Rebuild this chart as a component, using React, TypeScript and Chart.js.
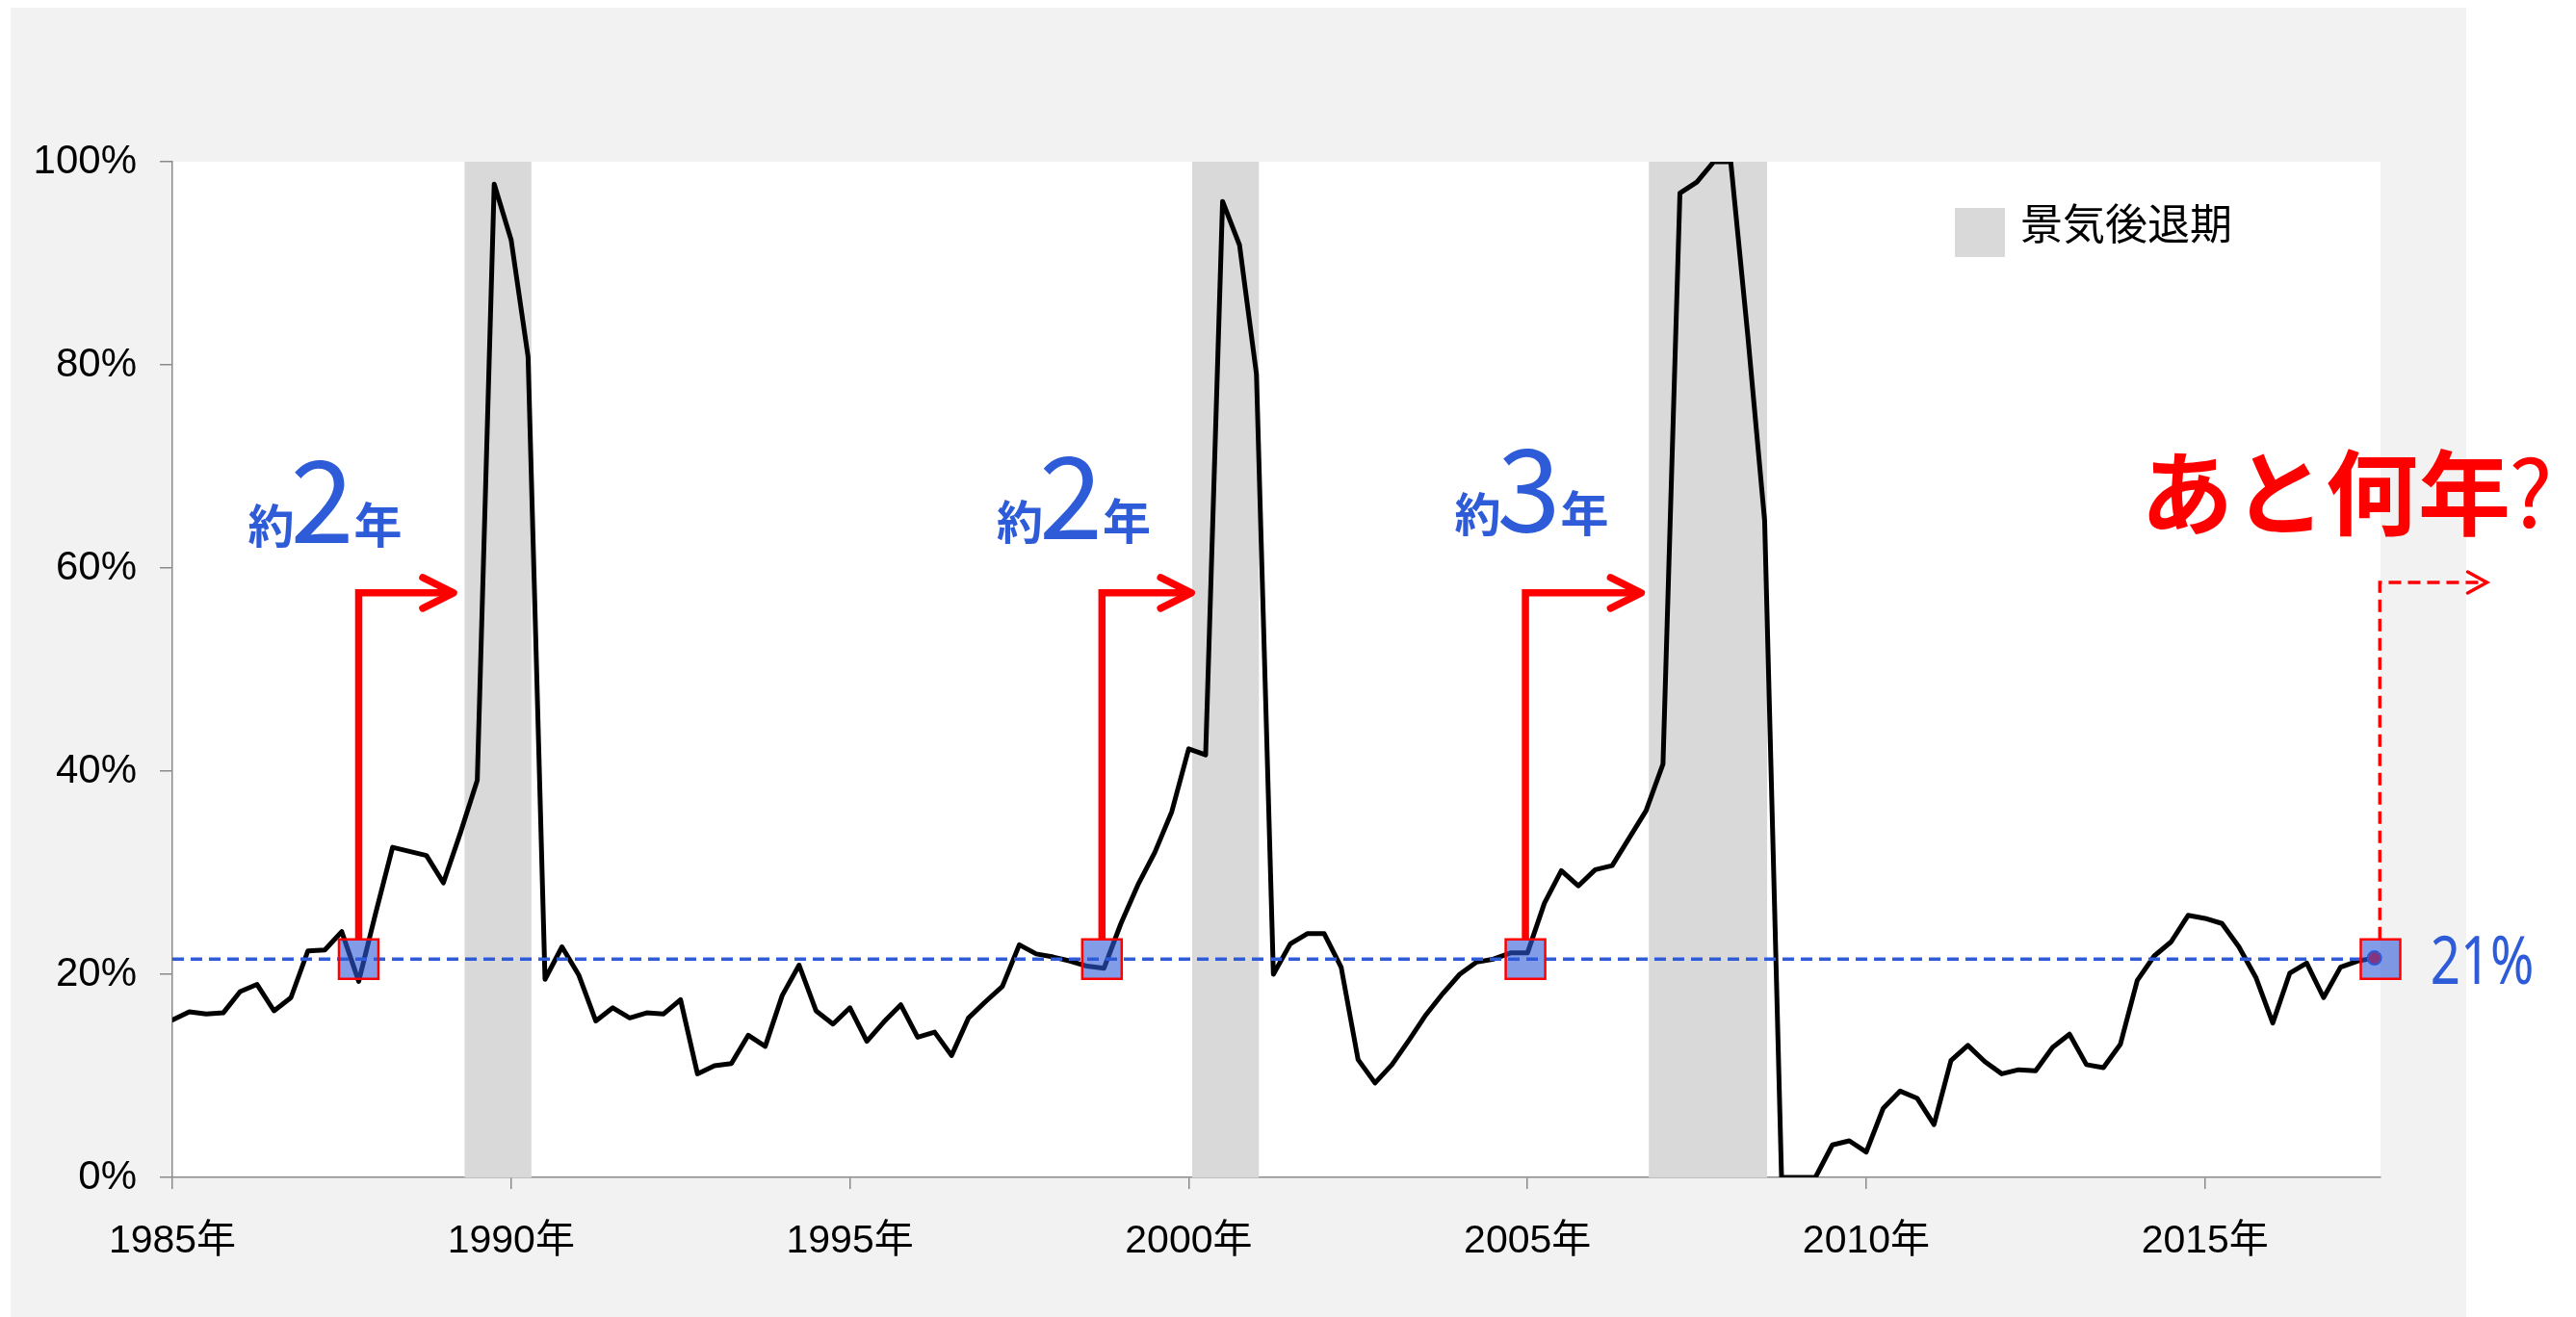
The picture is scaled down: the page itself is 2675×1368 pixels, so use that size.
import React, { useEffect, useRef } from 'react';
import { Chart, registerables } from 'chart.js';

Chart.register(...registerables);

const W = 2675;
const H = 1368;

// Quarterly series, 1985 Q1 .. 2017 Q3 (%)
const startYear = 1985;
const quarterValues = [
  15.5, 16.3, 16.1, 16.2, // 1985
  18.3, 19.0, 16.4, 17.7, // 1986
  22.3, 22.4, 24.2, 19.3, // 1987
  26.0, 32.5, 32.1, 31.7, // 1988
  29.0, 33.9, 39.1, 97.8, // 1989
  92.3, 80.8, 19.5, 22.7, // 1990
  19.9, 15.4, 16.7, 15.7, // 1991
  16.2, 16.1, 17.5, 10.2, // 1992
  11.0, 11.2, 14.0, 12.9, // 1993
  17.9, 20.9, 16.4, 15.1, // 1994
  16.7, 13.4, 15.3, 17.0, // 1995
  13.8, 14.3, 12.0, 15.7, // 1996
  17.3, 18.8, 22.9, 22.0, // 1997
  21.7, 21.3, 20.8, 20.6, // 1998
  25.0, 28.8, 32.0, 36.0, // 1999
  42.2, 41.6, 96.1, 91.8, // 2000
  79.1, 20.0, 23.0, 24.0, // 2001
  24.0, 20.7, 11.6, 9.3, // 2002
  11.1, 13.5, 16.0, 18.1, // 2003
  20.0, 21.2, 21.5, 22.1, // 2004
  22.1, 27.0, 30.2, 28.7, // 2005
  30.3, 30.7, 33.4, 36.1, // 2006
  40.7, 96.9, 98.0, 100.0, // 2007
  100.0, 83.0, 64.7, 0.0, // 2008
  0.0, 0.0, 3.2, 3.6, // 2009
  2.5, 6.8, 8.5, 7.8, // 2010
  5.2, 11.5, 13.0, 11.4, // 2011
  10.2, 10.6, 10.5, 12.8, // 2012
  14.1, 11.1, 10.8, 13.1, // 2013
  19.4, 21.8, 23.2, 25.8, // 2014
  25.5, 25.0, 22.7, 19.7, // 2015
  15.2, 20.1, 21.1, 17.7, // 2016
  20.7, 21.3, 21.6, // 2017
];

// Recession periods (景気後退期), decimal years
const recessionStarts = [1989.31, 2000.05, 2006.79];
const recessionEnds = [1990.3, 2001.04, 2008.54];

// Reference level line and highlighted points
const referenceLevel = 21.5;
const markerYears = [1987.75, 1998.72, 2004.97, 2017.59];

// Arrows (solid) from markers to recession starts
const arrowFromYears = [1987.75, 1998.72, 2004.97];
const arrowToYears = [1989.15, 2000.04, 2006.68];
const arrowLevel = 57.55;
const arrowBaseLevel = 23.43;

// Dashed "future" arrow
const futureArrowFrom = 2017.58;
const futureArrowTo = 2019.16;
const futureArrowLevel = 58.58;

// Annotation labels 約N年
const leadDigits = ['2', '2', '3'];
const leadLabelYears = [1987.21, 1998.26, 2005.02];
const leadLabelLevels = [62.47, 62.85, 63.61];

// Tick labels
const xTickYears = [1985, 1990, 1995, 2000, 2005, 2010, 2015];
const yTickValues = [0, 20, 40, 60, 80, 100];

const legendLabel = '景気後退期';
const questionText = 'あと何年';
const currentLabel = '21%';

const BLUE = '#2e5bd8';
const RED = '#ff0000';
const LATIN = "'Liberation Sans', Arial, 'Noto Sans CJK JP', sans-serif";
const CJK = "'Noto Sans CJK JP', 'Noto Sans', sans-serif";

function drawArrowHead(ctx: CanvasRenderingContext2D, x: number, y: number, back: number, half: number) {
  ctx.beginPath();
  ctx.moveTo(x - back, y - half);
  ctx.lineTo(x, y);
  ctx.lineTo(x - back, y + half);
  ctx.stroke();
}

const decorPlugin = {
  id: 'decor',
  beforeDraw(chart: any) {
    const { ctx, chartArea: ca } = chart;
    ctx.save();
    ctx.fillStyle = '#ffffff';
    ctx.fillRect(0, 0, W, H);
    ctx.fillStyle = '#f2f2f2';
    ctx.fillRect(11, 8, 2561 - 11, H - 8);
    ctx.fillStyle = '#ffffff';
    ctx.fillRect(ca.left, ca.top, ca.right - ca.left, ca.bottom - ca.top);
    ctx.restore();
  },
  afterDatasetsDraw(chart: any) {
    const { ctx } = chart;
    const xs = chart.scales.x;
    const ys = chart.scales.y;
    ctx.save();
    // solid arrows
    ctx.strokeStyle = RED;
    ctx.lineWidth = 7.5;
    for (let i = 0; i < arrowFromYears.length; i++) {
      const x0 = xs.getPixelForValue(arrowFromYears[i]);
      const y0 = ys.getPixelForValue(arrowBaseLevel);
      const y1 = ys.getPixelForValue(arrowLevel);
      const x1 = xs.getPixelForValue(arrowToYears[i]);
      ctx.lineJoin = 'miter';
      ctx.lineCap = 'butt';
      ctx.beginPath();
      ctx.moveTo(x0, y0);
      ctx.lineTo(x0, y1);
      ctx.lineTo(x1 - 3, y1);
      ctx.stroke();
      ctx.lineCap = 'round';
      ctx.lineJoin = 'round';
      drawArrowHead(ctx, x1, y1, 32, 16);
    }
    // dashed arrow
    {
      const x0 = xs.getPixelForValue(futureArrowFrom);
      const y0 = ys.getPixelForValue(arrowBaseLevel);
      const y1 = ys.getPixelForValue(futureArrowLevel);
      const x1 = xs.getPixelForValue(futureArrowTo);
      ctx.lineWidth = 3.5;
      ctx.lineCap = 'butt';
      ctx.lineJoin = 'miter';
      ctx.setLineDash([13, 7]);
      ctx.beginPath();
      ctx.moveTo(x0, y0);
      ctx.lineTo(x0, y1);
      ctx.lineTo(x1 - 2, y1);
      ctx.stroke();
      ctx.setLineDash([]);
      ctx.lineCap = 'round';
      drawArrowHead(ctx, x1, y1, 20, 11);
    }
    ctx.restore();
  },
  afterDraw(chart: any) {
    const { ctx, chartArea: ca } = chart;
    const xs = chart.scales.x;
    const ys = chart.scales.y;
    ctx.save();
    // 約N年 labels
    ctx.fillStyle = BLUE;
    ctx.textBaseline = 'alphabetic';
    ctx.textAlign = 'center';
    for (let i = 0; i < leadDigits.length; i++) {
      const cx = xs.getPixelForValue(leadLabelYears[i]);
      const by = ys.getPixelForValue(leadLabelLevels[i]);
      ctx.font = `700 48px ${CJK}`;
      ctx.fillText('約', cx - 53, by);
      ctx.font = `400 119px ${CJK}`;
      ctx.fillText(leadDigits[i], cx, by);
      ctx.font = `700 50px ${CJK}`;
      ctx.fillText('年', cx + 58, by);
    }
    // あと何年?
    ctx.fillStyle = RED;
    ctx.textAlign = 'left';
    ctx.font = `700 96px ${CJK}`;
    ctx.fillText(questionText, 2223, 548);
    ctx.textAlign = 'center';
    ctx.font = `400 96px ${CJK}`;
    ctx.fillText('?', 2628, 548);
    // 21% label (condensed)
    {
      ctx.fillStyle = BLUE;
      ctx.textAlign = 'left';
      ctx.font = `400 70px 'Noto Sans', ${LATIN}`;
      const m = ctx.measureText(currentLabel);
      const gw = m.actualBoundingBoxLeft + m.actualBoundingBoxRight;
      const sx = 103 / gw;
      const baseY = ys.getPixelForValue(referenceLevel) + 25.5;
      ctx.save();
      ctx.translate(ca.right + 54, baseY);
      ctx.scale(sx, 1);
      ctx.fillText(currentLabel, m.actualBoundingBoxLeft, 0);
      ctx.restore();
    }
    // legend
    ctx.fillStyle = '#d9d9d9';
    ctx.fillRect(ca.right - 442, ca.top + 48, 52, 51);
    ctx.fillStyle = '#000000';
    ctx.textAlign = 'left';
    ctx.font = `400 44px ${CJK}`;
    ctx.fillText(legendLabel, ca.right - 374, ca.top + 81);
    ctx.restore();
  },
};

export default function App() {
  const ref = useRef<HTMLCanvasElement | null>(null);

  useEffect(() => {
    if (!ref.current) return;
    const lineData = quarterValues.map((v, i) => ({ x: startYear + i / 4, y: v }));
    const lastIndex = quarterValues.length - 1;

    const bandSets = recessionStarts.map((s, i) => ({
      type: 'line' as const,
      label: legendLabel,
      data: [
        { x: s, y: 100 },
        { x: recessionEnds[i], y: 100 },
      ],
      borderColor: 'rgba(0,0,0,0)',
      borderWidth: 0,
      backgroundColor: '#d9d9d9',
      pointRadius: 0,
      fill: 'origin',
      order: 5,
    }));

    const chart = new Chart(ref.current, {
      type: 'line',
      data: {
        datasets: [
          {
            label: 'markers',
            data: markerYears.map((x) => ({ x, y: referenceLevel })),
            showLine: false,
            pointStyle: 'rect',
            pointRadius: 29,
            pointBackgroundColor: 'rgba(47,90,216,0.6)',
            pointBorderColor: RED,
            pointBorderWidth: 2.5,
            clip: false,
            order: 0,
          } as any,
          {
            label: 'last',
            data: [{ x: startYear + lastIndex / 4, y: quarterValues[lastIndex] }],
            showLine: false,
            pointRadius: 7,
            pointBackgroundColor: RED,
            pointBorderColor: BLUE,
            pointBorderWidth: 2,
            clip: false,
            order: 1,
          } as any,
          {
            label: 'level',
            data: [
              { x: startYear, y: referenceLevel },
              { x: startYear + lastIndex / 4, y: referenceLevel },
            ],
            borderColor: BLUE,
            borderWidth: 3.6,
            borderDash: [12, 7],
            pointRadius: 0,
            fill: false,
            order: 2,
          } as any,
          {
            label: 'series',
            data: lineData,
            borderColor: '#000000',
            borderWidth: 5,
            borderJoinStyle: 'round',
            borderCapStyle: 'round',
            pointRadius: 0,
            tension: 0,
            fill: false,
            order: 3,
          } as any,
          ...(bandSets as any[]),
        ],
      },
      options: {
        animation: false,
        responsive: false,
        maintainAspectRatio: false,
        devicePixelRatio: 1,
        events: [],
        layout: { padding: { left: 0, top: 168, right: 203, bottom: 0 } },
        plugins: {
          legend: { display: false },
          tooltip: { enabled: false },
        },
        scales: {
          x: {
            type: 'linear',
            min: 1985,
            max: 2017.59,
            afterBuildTicks: (s: any) => {
              s.ticks = xTickYears.map((v) => ({ value: v }));
            },
            afterFit: (s: any) => {
              s.height = 145;
            },
            ticks: {
              callback: (v: any) => `${v}年`,
              color: '#000000',
              font: { family: LATIN, size: 41 },
              padding: 30,
              maxRotation: 0,
              autoSkip: false,
              includeBounds: false,
            },
            grid: {
              drawOnChartArea: false,
              drawTicks: true,
              tickLength: 12,
              color: '#8a8a8a',
              lineWidth: 1.5,
            },
            border: { display: true, color: '#8a8a8a', width: 1.5 },
          },
          y: {
            type: 'linear',
            min: 0,
            max: 100,
            afterBuildTicks: (s: any) => {
              s.ticks = yTickValues.map((v) => ({ value: v }));
            },
            afterFit: (s: any) => {
              s.width = 179;
            },
            ticks: {
              callback: (v: any) => `${v}%`,
              color: '#000000',
              font: { family: LATIN, size: 42 },
              padding: 24,
            },
            grid: {
              drawOnChartArea: false,
              drawTicks: true,
              tickLength: 13,
              color: '#8a8a8a',
              lineWidth: 1.5,
            },
            border: { display: true, color: '#8a8a8a', width: 1.5 },
          },
        },
      } as any,
      plugins: [decorPlugin],
    });
    return () => chart.destroy();
  }, []);

  return (
    <div style={{ position: 'fixed', left: 0, top: 0, width: W, height: H, background: '#ffffff' }}>
      <canvas ref={ref} width={W} height={H} style={{ display: 'block', width: W, height: H }} />
    </div>
  );
}
